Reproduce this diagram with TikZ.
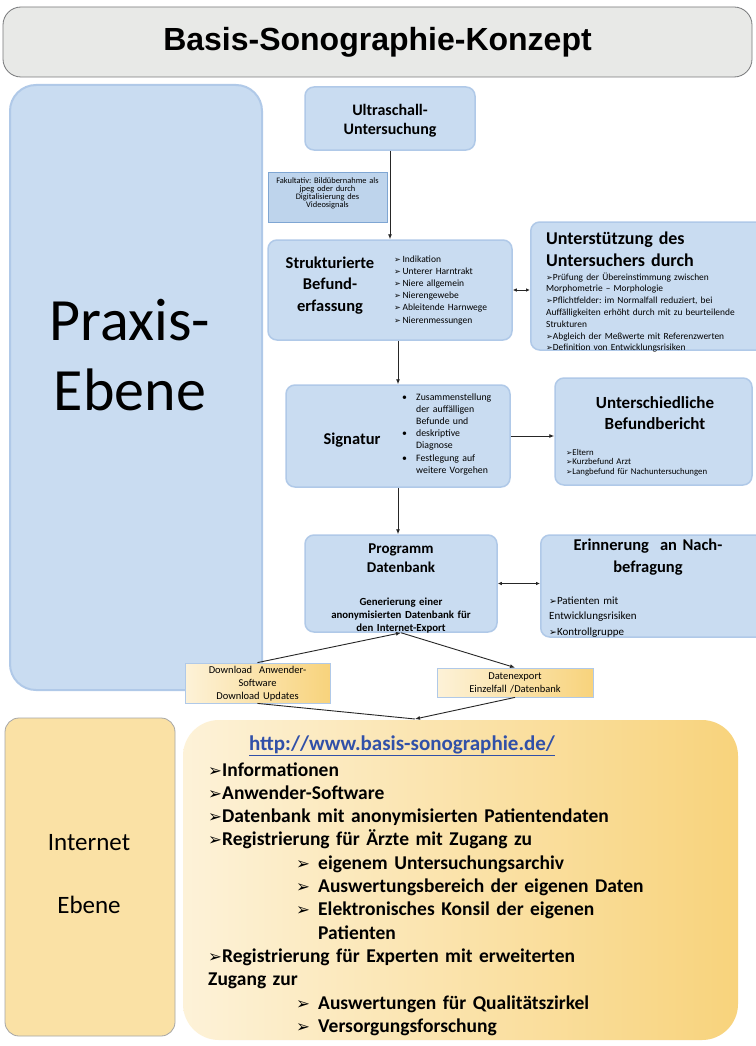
\documentclass[tikz,border=0pt]{standalone}
\usepackage{fontspec}
\setmainfont{Carlito}
\newfontfamily\titlefont{Liberation Sans}
\newfontfamily\dingfont{DejaVu Sans}
\usetikzlibrary{arrows.meta}
\newcommand\darr{{\dingfont\scalebox{0.85}{➢}}}
\newcommand\fs[2]{\fontsize{#1}{#2}\selectfont}
\frenchspacing
\definecolor{tgray}{HTML}{E8E9E7}
\definecolor{tborder}{HTML}{77787A}
\definecolor{bfill}{HTML}{C9DCF1}
\definecolor{bedge}{HTML}{B0C9E8}
\definecolor{yl}{HTML}{FDF2D8}
\definecolor{yr}{HTML}{F8D37C}
\definecolor{urlblue}{HTML}{3150A8}
\definecolor{fakedge}{HTML}{7FA6D3}
\tikzset{
  bbox/.style={rounded corners=9pt, fill=bfill, draw=bedge, line width=1.5pt, inner sep=0pt},
  ybox/.style={left color=yl, right color=yr, draw=bedge, line width=0.8pt, inner sep=0pt},
  conn/.style={draw=black!85, line width=0.9pt},
  tip/.style={-{Latex[length=5pt,width=4pt]}},
  tips/.style={{Latex[length=4pt,width=3.5pt]}-{Latex[length=4pt,width=3.5pt]}},
  txtc/.style={inner sep=0pt, align=center, anchor=base, text width=#1},
  txtl/.style={inner sep=0pt, align=left, anchor=base west, text width=#1},
}
\begin{document}
\begin{tikzpicture}[x=1pt,y=-1pt]
\useasboundingbox (0,0) rectangle (755,1046);
\fill[white] (0,0) rectangle (755,1046);

% title
\node[rounded corners=18pt, fill=tgray, draw=tborder, line width=0.8pt,
      minimum width=749pt, minimum height=70pt,
      font=\titlefont\bfseries\fs{32}{34}] (title) at (377.5,42)
      {Basis-Sonographie-Konzept};

% left level boxes
\node[rounded corners=26pt, fill=bfill, draw=bedge, line width=2pt,
      minimum width=252pt, minimum height=605pt] (praxis) at (136,387.5) {};
\node[txtc=240pt, font=\fs{60}{70}] (praxtxt) at (130,340) {Praxis-\\Ebene};
\node[rounded corners=14pt, fill=yr!55!yl, draw=black!35, line width=0.8pt,
      minimum width=170pt, minimum height=318pt] (inetl) at (90,877) {};
\node[inner sep=0pt, anchor=base, font=\fs{25}{28}] (inetl1) at (89,850) {Internet};
\node[inner sep=0pt, anchor=base, font=\fs{25}{28}] (inetl2) at (89,913) {Ebene};

% blue chain
\node[bbox, minimum width=170pt, minimum height=63pt] (ultra) at (390,118.5) {};
\node[txtc=160pt, font=\bfseries\fs{16}{19}] (ultratxt) at (390,116) {Ultraschall-\\Untersuchung};
\node[fill=bfill!85!fakedge, draw=fakedge, line width=1pt,
      minimum width=119pt, minimum height=50pt, inner sep=0pt] (fak) at (327.5,197) {};
\node[txtc=118pt, font=\fs{8.4}{8.2}] (faktxt) at (327.5,183)
      {Fakultativ: Bildübernahme als\\jpeg oder durch\\Digitalisierung des\\Videosignals};

\node[bbox, minimum width=244pt, minimum height=100pt] (struk) at (390,290) {};
\node[txtc=115pt, font=\bfseries\fs{16.5}{21.5}] (struktxt) at (330,268)
      {Strukturierte\\Befund-\\erfassung};
\node[txtl=115pt, font=\fs{9.5}{12.2}] (struklist) at (394,262)
      {\darr\,Indikation\\\darr\,Unterer Harntrakt\\\darr\,Niere allgemein\\\darr\,Nierengewebe\\\darr\,Ableitende Harnwege\\\darr\,Nierenmessungen};

\node[bbox, minimum width=235pt, minimum height=128pt, anchor=west] (unter) at (530,286) {};
\node[txtl=210pt, font=\bfseries\fs{18}{22}] (untertitle) at (546,244)
      {Unterstützung des\\Untersuchers durch};
\node[txtl=215pt, font=\fs{9.4}{11.8}] (unterlist) at (546,280)
      {\darr Prüfung der Übereinstimmung zwischen\\Morphometrie – Morphologie\\\darr Pflichtfelder: im Normalfall reduziert, bei\\Auffälligkeiten erhöht durch mit zu beurteilende\\Strukturen\\\darr Abgleich der Meßwerte mit Referenzwerten\\\darr Definition von Entwicklungsrisiken};

\node[bbox, minimum width=224pt, minimum height=102pt] (sign) at (398,436) {};
\node[inner sep=0pt, anchor=base, font=\bfseries\fs{16.5}{20}] (signtxt) at (352,444) {Signatur};
\node[txtl=105pt, font=\fs{9.8}{12.2}] (signlist) at (402,400)
      {\makebox[14pt][l]{•}Zusammenstellung\\\hspace*{14pt}der auffälligen\\\hspace*{14pt}Befunde und\\\makebox[14pt][l]{•}deskriptive\\\hspace*{14pt}Diagnose\\\makebox[14pt][l]{•}Festlegung auf\\\hspace*{14pt}weitere Vorgehen};

\node[bbox, minimum width=197pt, minimum height=107pt] (befund) at (653.5,431.5) {};
\node[txtc=190pt, font=\bfseries\fs{17}{21}] (befundtitle) at (655,408)
      {Unterschiedliche\\Befundbericht};
\node[txtl=185pt, font=\fs{8.8}{9.5}] (befundlist) at (566,455)
      {\darr Eltern\\\darr Kurzbefund Arzt\\\darr Langbefund für Nachuntersuchungen};

\node[bbox, minimum width=192pt, minimum height=97pt] (prog) at (401,583.5) {};
\node[txtc=185pt, font=\bfseries\fs{15}{19}] (progtitle) at (401,553)
      {Programm\\Datenbank};
\node[txtc=188pt, font=\bfseries\fs{10.8}{13}] (progsub) at (401,605)
      {Generierung einer\\anonymisierten Datenbank für\\den Internet-Export};

\node[bbox, minimum width=225pt, minimum height=102pt, anchor=west] (erin) at (540,586) {};
\node[txtc=205pt, font=\bfseries\fs{16.5}{22}] (erintitle) at (648,550)
      {Erinnerung~ an Nach-\\befragung};
\node[txtl=190pt, font=\fs{11}{15.5}] (erinlist) at (549,604)
      {\darr Patienten mit\\Entwicklungsrisiken\\\darr Kontrollgruppe};

% download / export boxes
\node[ybox, minimum width=145pt, minimum height=40pt] (dl) at (257.5,683) {};
\node[txtc=143pt, font=\fs{10.5}{13}] (dltxt) at (257.5,673)
      {Download~ Anwender-\\Software\\Download Updates};
\node[ybox, minimum width=156pt, minimum height=29pt] (dx) at (515,682.5) {};
\node[txtc=150pt, font=\fs{10.5}{13}] (dxtxt) at (515,679)
      {Datenexport\\Einzelfall /Datenbank};

% internet box
\node[rounded corners=36pt, left color=yl, right color=yr, draw=none,
      minimum width=555pt, minimum height=320pt] (inet) at (460.5,880) {};
\coordinate (inettop) at (415,719);
\node[inner sep=0pt, anchor=base, font=\bfseries\fs{21}{24}, text=urlblue] (url) at (402,750)
      {\underline{http://www.basis-sonographie.de/}};
\node[txtl=525pt, font=\bfseries\fs{19.5}{23.3}] (inetlist) at (208,776)
      {\makebox[14pt][l]{\darr}Informationen\\
      \makebox[14pt][l]{\darr}Anwender-Software\\
      \makebox[14pt][l]{\darr}Datenbank mit anonymisierten Patientendaten\\
      \makebox[14pt][l]{\darr}Registrierung für Ärzte mit Zugang zu\\
      \hspace*{88pt}\makebox[22pt][l]{\darr}eigenem Untersuchungsarchiv\\
      \hspace*{88pt}\makebox[22pt][l]{\darr}Auswertungsbereich der eigenen Daten\\
      \hspace*{88pt}\makebox[22pt][l]{\darr}Elektronisches Konsil der eigenen\\
      \hspace*{110pt}Patienten\\
      \makebox[14pt][l]{\darr}Registrierung für Experten mit erweiterten\\
      Zugang zur\\
      \hspace*{88pt}\makebox[22pt][l]{\darr}Auswertungen für Qualitätszirkel\\
      \hspace*{88pt}\makebox[22pt][l]{\darr}Versorgungsforschung};

% connectors
\draw[conn, tip] (ultra.south) -- (struk.north);
\draw[conn, tip] (struk.south -| sign.north) -- (sign.north);
\draw[conn, tip] (sign.south) -- (sign.south |- prog.north);
\draw[conn, tips] (struk.east) -- (struk.east -| unter.west);
\draw[conn, tip] (sign.east) -- (sign.east -| befund.west);
\draw[conn, tips] (prog.east) -- (prog.east -| erin.west);
\draw[conn, tip] (dl.north) -- (prog.south);
\draw[conn, tip] (prog.south) -- (dx.north);
\draw[conn] (dl.south) -- (inettop);
\draw[conn, tip] (dx.south) -- (inettop);
\end{tikzpicture}
\end{document}
